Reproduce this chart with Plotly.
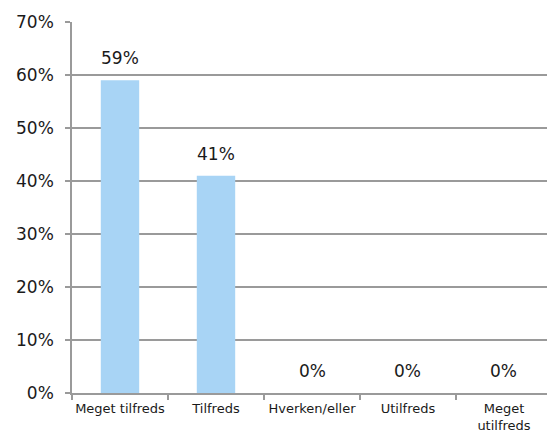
import plotly.graph_objects as go

# Satisfaction survey distribution (percent of respondents)
categories = ["Meget tilfreds", "Tilfreds", "Hverken/eller", "Utilfreds", "Meget<br>utilfreds"]
values = [59, 41, 0, 0, 0]
y_ticks = [0, 10, 20, 30, 40, 50, 60, 70]
y_tick_labels = [f"{t}%" for t in y_ticks]

FONT = "DejaVu Sans, Verdana, sans-serif"
BAR_COLOR = "#A8D4F5"
GRID_COLOR = "#9A9A9A"

fig = go.Figure()
fig.add_trace(go.Bar(
    x=categories,
    y=values,
    width=0.4,
    marker=dict(color=BAR_COLOR, line=dict(width=0)),
    hoverinfo="skip",
))

# value labels above each bar
for cat, v in zip(categories, values):
    fig.add_annotation(
        x=cat, y=v, text=f"{v}%", showarrow=False,
        yanchor="bottom", yshift=10,
        font=dict(family=FONT, size=17, color="#1a1a1a"),
    )

fig.update_layout(
    width=547, height=432,
    margin=dict(l=72, r=0, t=22, b=39),
    paper_bgcolor="white", plot_bgcolor="white",
    showlegend=False,
    bargap=0.6,
    xaxis=dict(
        range=[-0.5, 4.448],
        showgrid=False,
        showline=True, linecolor=GRID_COLOR, linewidth=1.5,
        ticks="outside", tickson="boundaries", ticklen=5,
        tickcolor=GRID_COLOR, tickwidth=1.5,
        tickangle=0, automargin=False, ticklabelstandoff=3,
        tickfont=dict(family=FONT, size=13, color="#1a1a1a"),
        fixedrange=True,
    ),
    yaxis=dict(
        range=[0, 70],
        tickvals=y_ticks, ticktext=y_tick_labels,
        showgrid=True, gridcolor=GRID_COLOR, gridwidth=1.5,
        showline=True, linecolor=GRID_COLOR, linewidth=1.5,
        ticks="outside", ticklen=5, tickcolor=GRID_COLOR, tickwidth=1.5,
        ticklabelstandoff=8, automargin=False,
        tickfont=dict(family=FONT, size=17, color="#1a1a1a"),
        zeroline=False,
        fixedrange=True,
    ),
)

fig.write_html("out.html")
